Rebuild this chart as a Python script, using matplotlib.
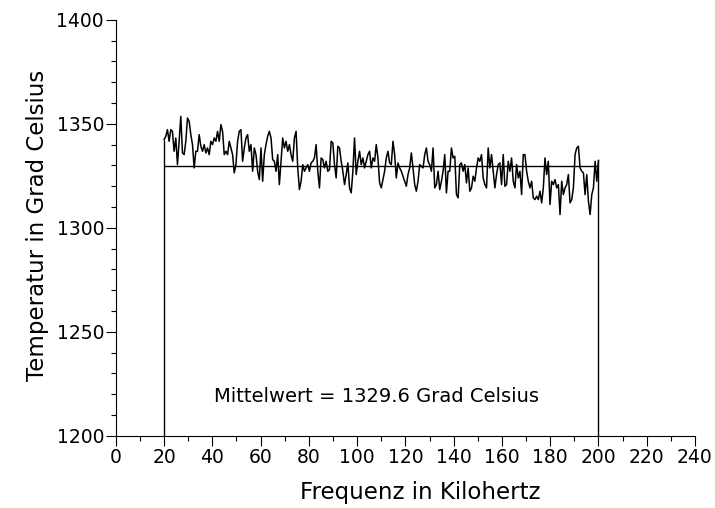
import numpy as np
import matplotlib
matplotlib.use("Agg")
import matplotlib.pyplot as plt
from matplotlib.ticker import MultipleLocator

freq_start = 20
freq_end = 200
temps = [
    1342.4, 1344.0, 1347.2, 1341.6, 1347.2, 1346.4, 1336.8, 1343.2, 1330.4, 1341.6,
    1353.6, 1336.0, 1335.2, 1341.6, 1352.8, 1351.2, 1344.8, 1340.0, 1328.8, 1336.8,
    1336.8, 1344.8, 1339.2, 1336.8, 1340.0, 1336.0, 1338.4, 1335.2, 1341.6, 1340.0,
    1343.2, 1341.6, 1346.4, 1341.6, 1349.6, 1346.4, 1335.2, 1336.8, 1335.2, 1341.6,
    1338.4, 1335.2, 1326.4, 1330.4, 1341.6, 1346.4, 1347.2, 1332.0, 1338.4, 1343.2,
    1344.8, 1336.8, 1340.0, 1327.2, 1338.4, 1335.2, 1327.2, 1323.2, 1338.4, 1322.4,
    1335.2, 1340.0, 1344.0, 1346.4, 1343.2, 1332.8, 1332.0, 1327.2, 1335.2, 1320.8,
    1332.0, 1343.2, 1338.4, 1341.6, 1336.8, 1340.0, 1335.2, 1332.0, 1343.2, 1346.4,
    1328.8, 1318.4, 1322.4, 1330.4, 1327.2,
    1328.8, 1330.4, 1327.2, 1331.2, 1332.0, 1333.6, 1340.0, 1327.2, 1319.2, 1333.6,
    1332.8, 1328.8, 1332.0, 1327.2, 1328.0, 1341.6, 1340.8, 1330.4, 1324.0, 1339.2,
    1338.4, 1332.0, 1327.2, 1320.8, 1325.6, 1331.2, 1319.2, 1316.8, 1327.2, 1343.2,
    1325.6, 1332.0, 1336.8, 1330.4, 1333.6, 1328.8, 1332.0, 1335.2, 1336.8, 1328.8,
    1333.6, 1332.0, 1340.0, 1333.6, 1321.6, 1319.2, 1323.2, 1327.2, 1333.6, 1336.8,
    1331.2, 1330.4, 1341.6, 1335.2, 1324.0, 1331.2, 1328.8, 1327.2, 1324.8, 1322.4,
    1320.0, 1325.6, 1328.8, 1336.0, 1328.8, 1320.8, 1317.6, 1322.4, 1330.4, 1329.6,
    1328.8, 1335.2, 1338.4, 1332.0, 1330.4, 1327.2, 1338.4, 1319.2, 1320.8, 1327.2,
    1318.4, 1322.4, 1327.2, 1335.2, 1316.8, 1327.2,
    1327.2, 1338.4, 1333.6, 1334.4, 1316.0, 1314.4, 1330.4, 1331.2, 1327.2, 1330.4,
    1321.6, 1328.8, 1317.6, 1319.2, 1324.8, 1322.4, 1328.8, 1333.6, 1332.0, 1335.2,
    1324.0, 1320.8, 1319.2, 1338.4, 1328.8, 1335.2, 1327.2, 1319.2, 1325.6, 1330.4,
    1331.2, 1320.8, 1335.2, 1320.0, 1320.8, 1332.0, 1327.2, 1333.6, 1322.4, 1319.2,
    1330.4, 1324.0, 1327.2, 1316.0, 1335.2, 1335.2, 1327.2, 1322.4, 1319.2, 1322.4,
    1314.4, 1313.6, 1315.2, 1313.6, 1317.6, 1312.0, 1319.2, 1333.6, 1325.6, 1332.0,
    1311.2, 1322.4, 1320.8, 1323.2, 1319.2, 1320.8, 1306.4, 1322.4, 1316.0, 1319.2,
    1320.8, 1325.6, 1312.0, 1313.6, 1319.2, 1335.2, 1338.4, 1339.2, 1328.8, 1327.2,
    1326.4, 1316.0, 1325.6, 1312.8, 1306.4, 1316.0, 1319.2, 1332.0, 1322.4, 1332.4,
]
mittelwert = 1329.6
y_min, y_max = 1200, 1400
x_min, x_max = 0, 240

freqs = np.linspace(freq_start, freq_end, len(temps))

plt.rcParams['font.family'] = 'DejaVu Sans'

fig = plt.figure(figsize=(7.15, 5.08), dpi=100)
ax = fig.add_axes([0.162, 0.142, 0.810, 0.819])

ax.plot(freqs, temps, color='black', linewidth=1.1)
ax.hlines(mittelwert, freq_start, freq_end, color='black', linewidth=1.0)
ax.vlines([freq_start, freq_end], y_min, [temps[0], temps[-1]], color='black', linewidth=1.0)

ax.text(108, 1219, f"Mittelwert = {mittelwert} Grad Celsius",
        ha='center', va='center', fontsize=14)

ax.set_xlim(x_min, x_max)
ax.set_ylim(y_min, y_max)
ax.xaxis.set_major_locator(MultipleLocator(20))
ax.xaxis.set_minor_locator(MultipleLocator(10))
ax.yaxis.set_major_locator(MultipleLocator(50))
ax.yaxis.set_minor_locator(MultipleLocator(10))

for side in ['top', 'right']:
    ax.spines[side].set_visible(False)
for side in ['left', 'bottom']:
    ax.spines[side].set_linewidth(0.8)

ax.tick_params(which='major', length=7, width=0.8, labelsize=13.5, pad=1.5)
ax.tick_params(which='minor', length=3.5, width=0.8)

ax.set_xlabel("Frequenz in Kilohertz", fontsize=16.5, va='center')
ax.set_ylabel("Temperatur in Grad Celsius", fontsize=16.5, va='center')
ax.xaxis.set_label_coords(0.525, -0.135)
ax.yaxis.set_label_coords(-0.135, 0.507)

fig.savefig("out.png", dpi=100)
